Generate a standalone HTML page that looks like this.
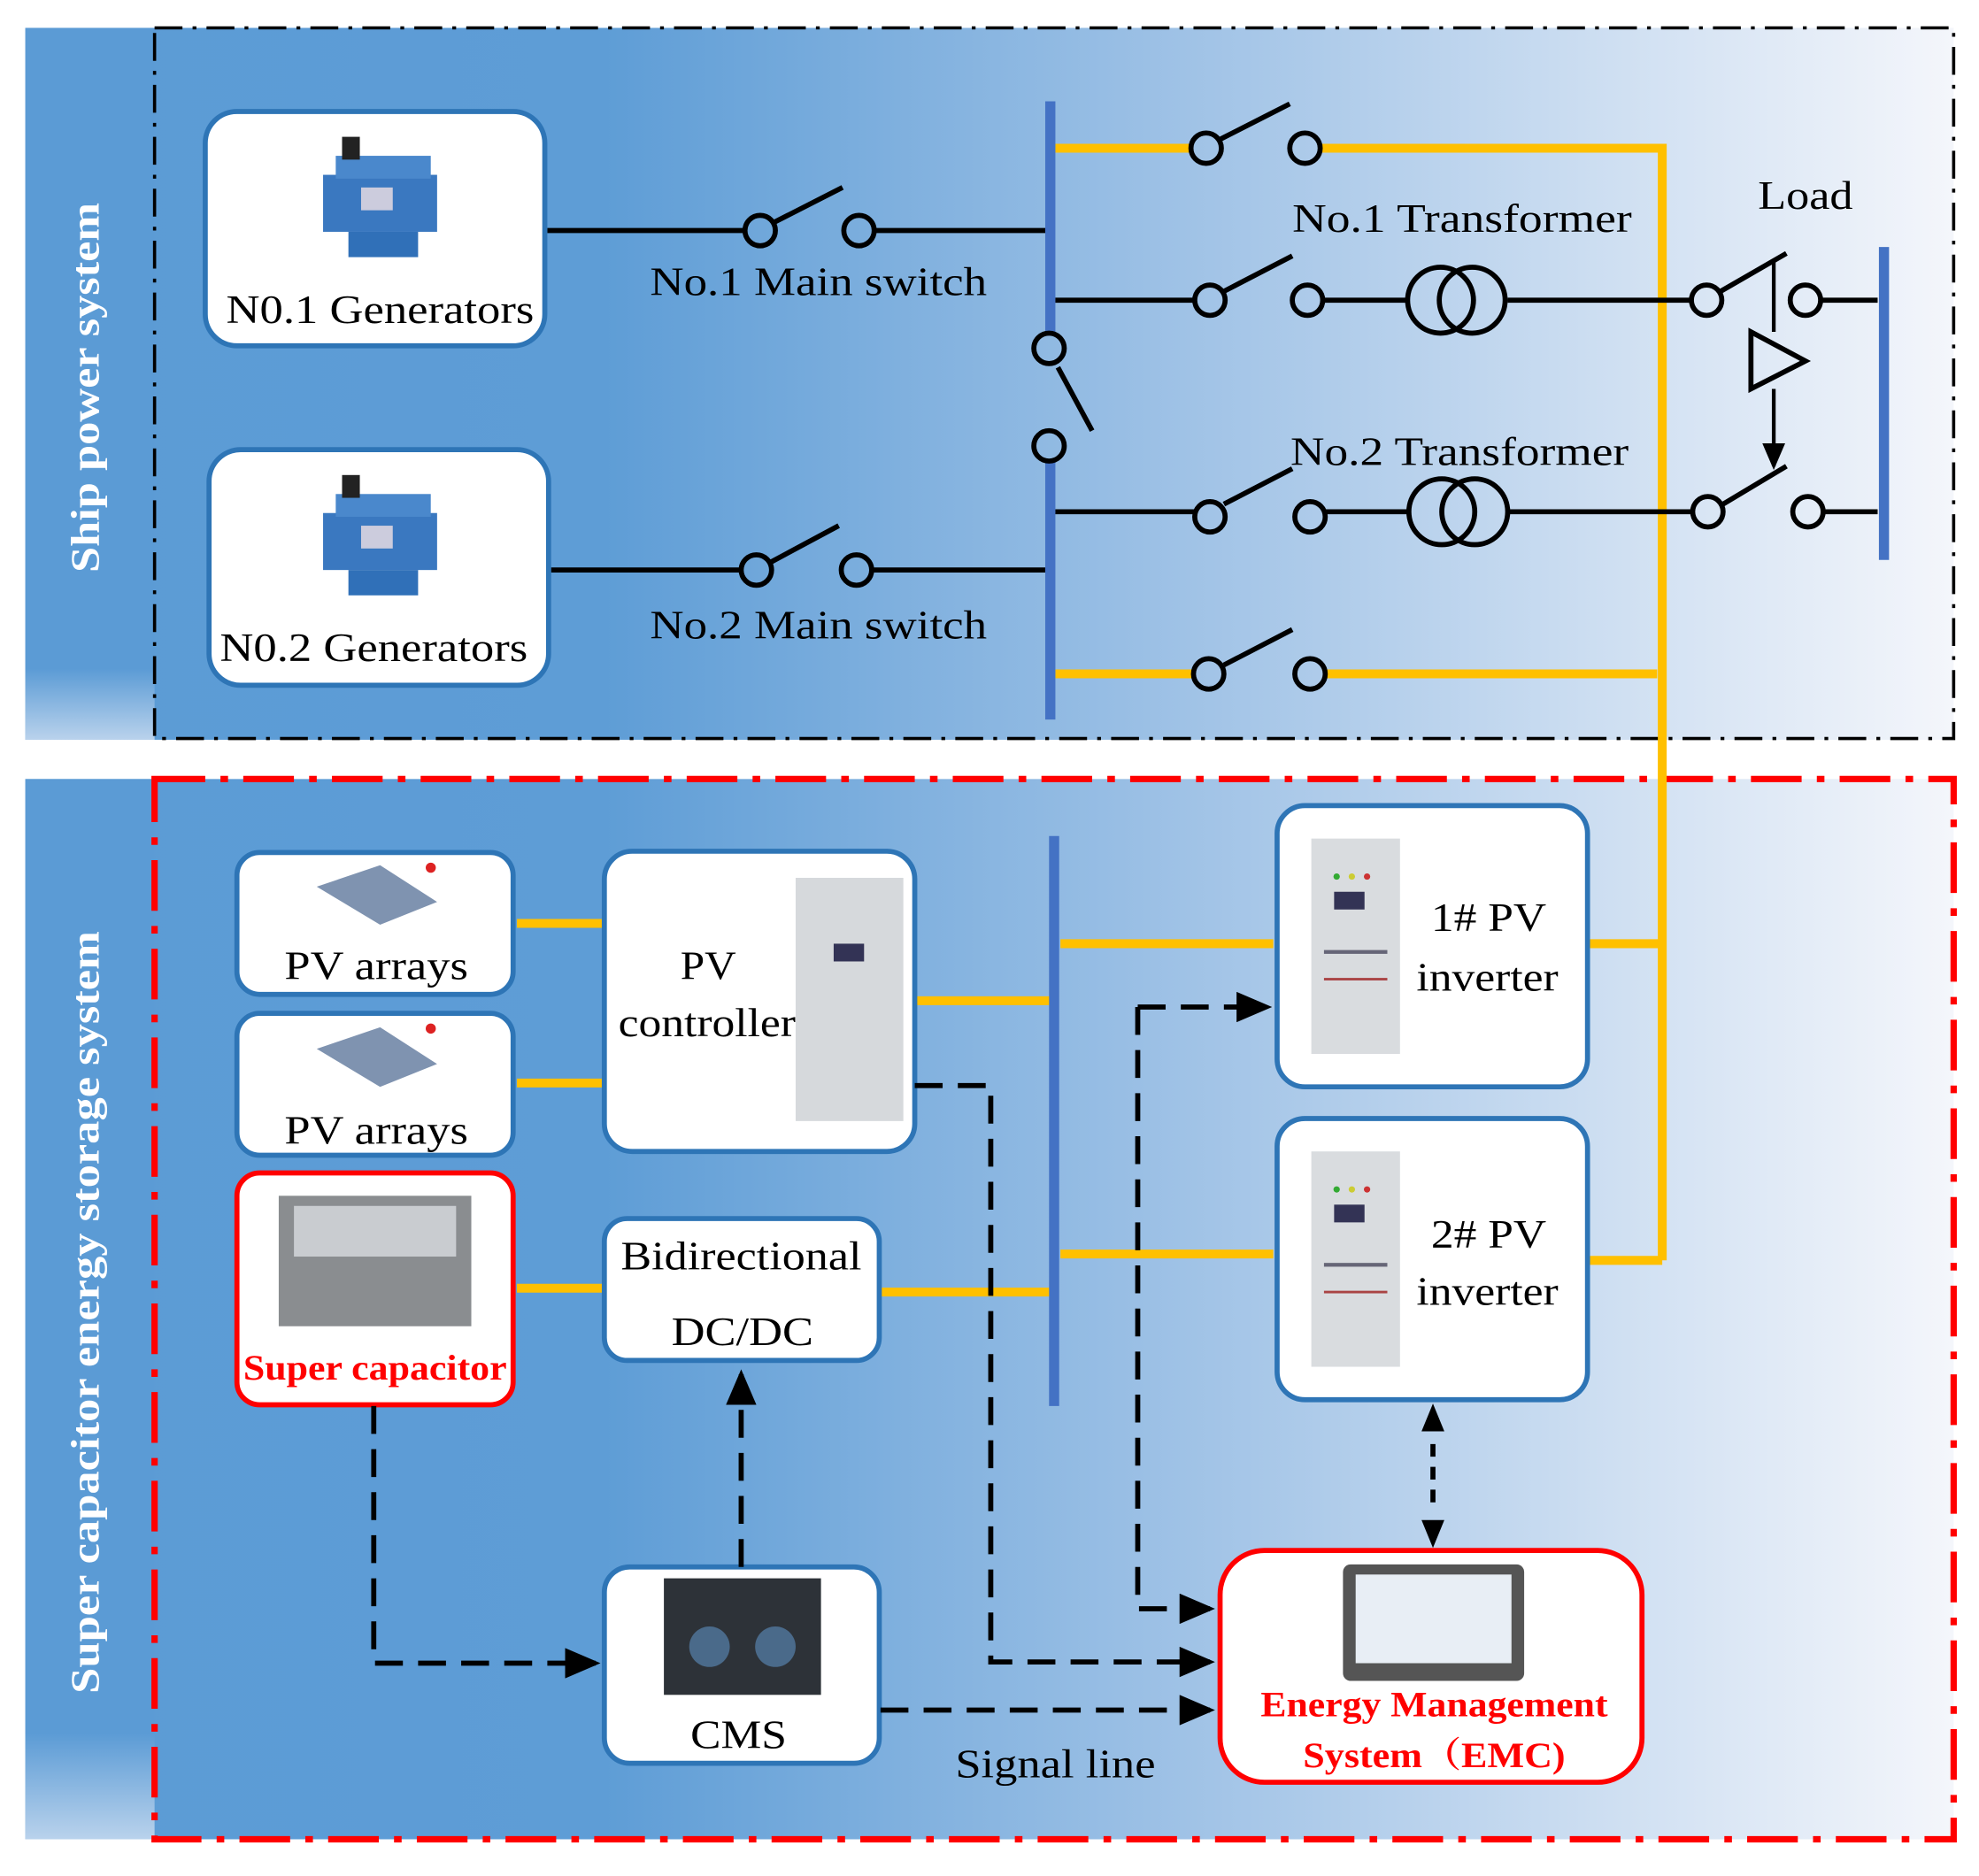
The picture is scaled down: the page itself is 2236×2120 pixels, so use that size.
<!DOCTYPE html>
<html><head><meta charset="utf-8"><style>html,body{margin:0;padding:0;background:#fff}svg{display:block}</style></head>
<body>
<svg width="2236" height="2120" viewBox="0 0 1562 1481" preserveAspectRatio="none" xmlns="http://www.w3.org/2000/svg" font-family="Liberation Serif, serif">
<defs>
<linearGradient id="g" x1="0" x2="1" y1="0" y2="0">
<stop offset="0" stop-color="#5b9bd5"/><stop offset="0.3" stop-color="#5e9dd6"/><stop offset="0.6" stop-color="#9fc2e6"/><stop offset="1" stop-color="#f4f6fb"/></linearGradient>
<linearGradient id="s" x1="0" x2="0" y1="0" y2="1">
<stop offset="0" stop-color="#5b9bd5"/><stop offset="0.9" stop-color="#5b9bd5"/><stop offset="1" stop-color="#b9d2ec"/></linearGradient>
<marker id="a" markerWidth="7" markerHeight="6" refX="6" refY="3" orient="auto" markerUnits="strokeWidth"><path d="M0,0 L7,3 L0,6 z" fill="#000"/></marker>
<g id="eng"><rect x="-45" y="-20" width="90" height="45" fill="#3a78c0"/><rect x="-35" y="-35" width="75" height="18" fill="#4a88cc"/><rect x="-30" y="-50" width="14" height="18" fill="#222"/><rect x="-25" y="25" width="55" height="20" fill="#3070b8"/><rect x="-15" y="-10" width="25" height="18" fill="#ccd"/></g>
<g id="cab"><rect x="0" y="0" width="70" height="170" fill="#d9dcdf"/><rect x="18" y="42" width="24" height="14" fill="#335"/><rect x="10" y="88" width="50" height="3" fill="#667"/><rect x="10" y="110" width="50" height="2" fill="#a44"/><circle cx="20" cy="30" r="2.5" fill="#3a3"/><circle cx="32" cy="30" r="2.5" fill="#cc3"/><circle cx="44" cy="30" r="2.5" fill="#c33"/></g>
</defs>
<rect x="20" y="22" width="1522" height="562" fill="url(#g)"/>
<rect x="20" y="615" width="1522" height="837" fill="url(#g)"/>
<rect x="20" y="22" width="102" height="562" fill="url(#s)"/>
<rect x="20" y="615" width="102" height="837" fill="url(#s)"/>
<rect x="122" y="22" width="1420" height="561" fill="none" stroke="#000" stroke-width="2.5" stroke-dasharray="22 8 3 8"/>
<rect x="122" y="615" width="1420" height="837" fill="none" stroke="#f00" stroke-width="5" stroke-dasharray="40 12 6 12"/>
<text transform="translate(78,306) rotate(-90)" text-anchor="middle" fill="#fff" font-size="32" font-weight="bold" textLength="292" lengthAdjust="spacingAndGlyphs">Ship power system</text>
<text transform="translate(78,1036) rotate(-90)" text-anchor="middle" fill="#fff" font-size="32" font-weight="bold" textLength="602" lengthAdjust="spacingAndGlyphs">Super capacitor energy storage system</text>

<g fill="none" stroke-width="7" stroke="#ffc000">
<path d="M833 117H940M1042 117H1312V995M833 532H942M1046 532H1308"/>
<path d="M408 729H475M408 855H475M408 1017H475M722 790H829M695 1020H829M837 745H1005M837 990H1005M1255 745H1312M1255 995H1312"/>
</g>
<g stroke="#4472c4" stroke-width="8"><path d="M829 80V262M829 365V568M1487 195V442M832 660V1110"/></g>

<g fill="none" stroke="#000" stroke-width="4">
<path d="M432 182H588M690 182H825M435 450H585M688 450H825"/>
<path d="M610 176L665 148M608 444L662 415"/>
<path d="M835 290L862 340"/>
<path d="M833 237H943M1044 237H1111M1190 237H1335M1437 237H1482"/>
<path d="M833 404H943M1046 404H1111M1191 404H1335M1437 404H1482"/>
<path d="M963 110L1018 82M966 230L1020 202M966 398L1020 370M966 525L1020 497"/>
<path d="M1358 230L1410 200M1360 398L1410 368"/>
<path d="M1382 262V307L1425 285Z"/>
<path d="M1400 205V262M1400 307V368" marker-end="url(#a)" stroke-width="3"/>
<circle cx="600" cy="182" r="12"/><circle cx="678" cy="182" r="12"/>
<circle cx="597" cy="450" r="12"/><circle cx="676" cy="450" r="12"/>
<circle cx="828" cy="275" r="12"/><circle cx="828" cy="352" r="12"/>
<circle cx="952" cy="117" r="12"/><circle cx="1030" cy="117" r="12"/>
<circle cx="955" cy="237" r="12"/><circle cx="1032" cy="237" r="12"/>
<circle cx="955" cy="408" r="12"/><circle cx="1034" cy="408" r="12"/>
<circle cx="954" cy="532" r="12"/><circle cx="1034" cy="532" r="12"/>
<circle cx="1347" cy="237" r="12"/><circle cx="1425" cy="237" r="12"/>
<circle cx="1348" cy="404" r="12"/><circle cx="1427" cy="404" r="12"/>
<circle cx="1137" cy="237" r="26"/><circle cx="1162" cy="237" r="26"/>
<circle cx="1138" cy="404" r="26"/><circle cx="1164" cy="404" r="26"/>
</g>

<g fill="#fff" stroke="#2e75b6" stroke-width="4">
<rect x="162" y="88" width="268" height="185" rx="25"/>
<rect x="165" y="355" width="268" height="186" rx="25"/>
<rect x="187" y="673" width="218" height="112" rx="18"/>
<rect x="187" y="800" width="218" height="112" rx="18"/>
<rect x="477" y="672" width="245" height="237" rx="22"/>
<rect x="477" y="962" width="217" height="112" rx="18"/>
<rect x="477" y="1237" width="217" height="155" rx="20"/>
<rect x="1008" y="636" width="245" height="222" rx="22"/>
<rect x="1008" y="883" width="245" height="222" rx="22"/>
</g>
<g fill="#fff" stroke="#f00" stroke-width="4">
<rect x="187" y="926" width="218" height="183" rx="18"/>
<rect x="963" y="1224" width="333" height="183" rx="35"/>
</g>
<use href="#eng" x="300" y="158"/><use href="#eng" x="300" y="425"/>
<g fill="#7f93b0"><path d="M250 700L300 683L345 712L300 730Z"/><path d="M250 828L300 811L345 840L300 858Z"/></g>
<g fill="#d22"><circle cx="340" cy="685" r="4"/><circle cx="340" cy="812" r="4"/></g>
<rect x="628" y="693" width="85" height="192" fill="#d6d9dc"/><rect x="658" y="745" width="24" height="14" fill="#335"/>
<rect x="220" y="944" width="152" height="103" fill="#8a8d90"/><rect x="232" y="952" width="128" height="40" fill="#c9ccd0"/>
<rect x="524" y="1246" width="124" height="92" fill="#2d3238"/><circle cx="560" cy="1300" r="16" fill="#4a6a8a"/><circle cx="612" cy="1300" r="16" fill="#4a6a8a"/>
<use href="#cab" x="1035" y="662"/><use href="#cab" x="1035" y="909"/>
<rect x="1060" y="1235" width="143" height="92" rx="6" fill="#555"/><rect x="1070" y="1243" width="123" height="70" fill="#e8eef5"/>

<g fill="none" stroke="#000" stroke-width="4" stroke-dasharray="22 12">
<path d="M295 1110V1313H470" marker-end="url(#a)"/>
<path d="M585 1237V1085" marker-end="url(#a)"/>
<path d="M722 857H782V1312H955" marker-end="url(#a)"/>
<path d="M695 1350H955" marker-end="url(#a)"/>
<path d="M898 795V1270H955" marker-end="url(#a)"/>
<path d="M898 795H1000" marker-end="url(#a)"/>
<path d="M1131 1140V1192" stroke-dasharray="10 8"/>
</g>
<path d="M1131 1108L1122 1130H1140Z M1131 1222L1122 1200H1140Z" fill="#000"/>

<g font-size="32" text-anchor="middle" fill="#000" lengthAdjust="spacingAndGlyphs">
<text x="300" y="255" textLength="243" lengthAdjust="spacingAndGlyphs">N0.1 Generators</text>
<text x="295" y="522" textLength="243" lengthAdjust="spacingAndGlyphs">N0.2 Generators</text>
<text x="646" y="233" textLength="266" lengthAdjust="spacingAndGlyphs">No.1 Main switch</text>
<text x="646" y="504" textLength="266" lengthAdjust="spacingAndGlyphs">No.2 Main switch</text>
<text x="1154" y="183" textLength="268" lengthAdjust="spacingAndGlyphs">No.1 Transformer</text>
<text x="1152" y="367" textLength="267" lengthAdjust="spacingAndGlyphs">No.2 Transformer</text>
<text x="1425" y="165" textLength="75" lengthAdjust="spacingAndGlyphs">Load</text>
<text x="297" y="773" textLength="145" lengthAdjust="spacingAndGlyphs">PV arrays</text>
<text x="297" y="903" textLength="145" lengthAdjust="spacingAndGlyphs">PV arrays</text>
<text x="559" y="773" textLength="44" lengthAdjust="spacingAndGlyphs">PV</text>
<text x="558" y="818" textLength="140" lengthAdjust="spacingAndGlyphs">controller</text>
<text x="585" y="1002" textLength="190" lengthAdjust="spacingAndGlyphs">Bidirectional</text>
<text x="586" y="1062" textLength="112" lengthAdjust="spacingAndGlyphs">DC/DC</text>
<text x="583" y="1380" textLength="76" lengthAdjust="spacingAndGlyphs">CMS</text>
<text x="1175" y="735" textLength="91" lengthAdjust="spacingAndGlyphs">1# PV</text>
<text x="1174" y="782" textLength="112" lengthAdjust="spacingAndGlyphs">inverter</text>
<text x="1175" y="985" textLength="91" lengthAdjust="spacingAndGlyphs">2# PV</text>
<text x="1174" y="1030" textLength="112" lengthAdjust="spacingAndGlyphs">inverter</text>
<text x="833" y="1403" textLength="158" lengthAdjust="spacingAndGlyphs">Signal line</text>
</g>
<g font-size="28" font-weight="bold" text-anchor="middle" fill="#f00">
<text x="296" y="1089" textLength="208" lengthAdjust="spacingAndGlyphs">Super capacitor</text>
<text x="1132" y="1355" textLength="274" lengthAdjust="spacingAndGlyphs">Energy Management</text>
<text x="1132" y="1395" textLength="207" lengthAdjust="spacingAndGlyphs" font-family="Liberation Serif, 'Noto Serif CJK SC', serif">System（EMC)</text>
</g>
</svg>
</body></html>
